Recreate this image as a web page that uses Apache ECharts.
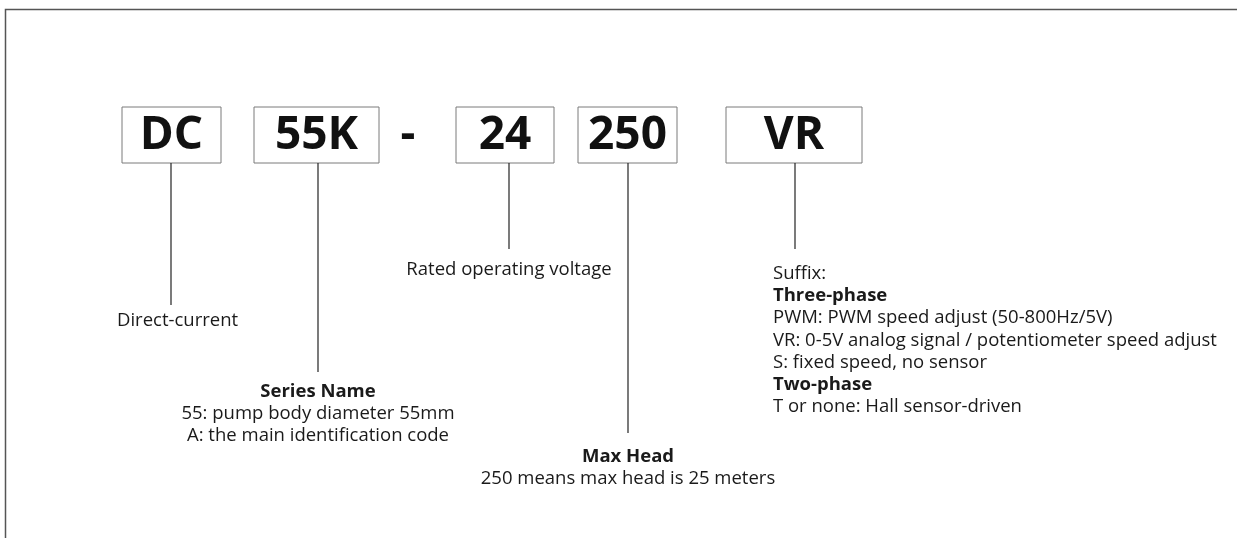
<!DOCTYPE html>
<html>
<head>
<meta charset="utf-8">
<title>Model code</title>
<script src="https://cdn.jsdelivr.net/npm/echarts@6/dist/echarts.min.js"></script>
<style>
  html, body { margin: 0; padding: 0; background: #fff; }
  #main { width: 1237px; height: 538px; }
</style>
</head>
<body>
<div id="main"></div>
<script>
// model code segments and where each sits along the code line
const codes = ['DC', '55K', '24', '250', 'VR'];
const codeStart = [122, 254, 456, 578, 726];
const codeEnd = [221, 379, 554, 677, 862];
const leaderX = [171, 318, 509, 628, 795];
const leaderEnd = [305, 372, 249, 433, 249];
const separatorText = '-';
const separatorX = 408;

// explanation lines under each segment, '*' marks a bold heading
const notes = [
    ['Direct-current'],
    ['*Series Name', '55: pump body diameter 55mm', 'A: the main identification code'],
    ['Rated operating voltage'],
    ['*Max Head', '250 means max head is 25 meters'],
    ['Suffix:', '*Three-phase', 'PWM: PWM speed adjust (50-800Hz/5V)',
        'VR: 0-5V analog signal / potentiometer speed adjust', 'S: fixed speed, no sensor',
        '*Two-phase', 'T or none: Hall sensor-driven']
];
const noteTop = [321, 392, 270, 457, 274];
const noteLeft = [117, null, null, null, 773];

const BOX_TOP = 107;
const BOX_BOTTOM = 163;
const FONT = '"Open Sans", "Noto Sans", sans-serif';

var chart = echarts.init(document.getElementById('main'));

function txt(text, x, y, font, align, color) {
    return {
        type: 'text',
        style: {
            text: text, x: x, y: y, font: font, fill: color || '#1a1a1a',
            align: align, verticalAlign: 'middle',
            textAlign: align, textVerticalAlign: 'middle'
        }
    };
}

function renderItem(params, api) {
    const i = params.dataIndex;
    const tl = api.coord([api.value(0), BOX_TOP]);
    const br = api.coord([api.value(1), BOX_BOTTOM]);
    const top = api.coord([api.value(2), BOX_BOTTOM]);
    const bot = api.coord([api.value(2), api.value(3)]);
    const children = [];
    children.push({
        type: 'rect',
        shape: { x: tl[0], y: tl[1], width: br[0] - tl[0], height: br[1] - tl[1] },
        style: { fill: '#fff', stroke: '#7a7a7a', lineWidth: 1 }
    });
    children.push(txt(codes[i], (tl[0] + br[0]) / 2, (tl[1] + br[1]) / 2 + 1,
        'bold 46px ' + FONT, 'center', '#111'));
    children.push({
        type: 'line',
        shape: { x1: top[0], y1: top[1], x2: bot[0], y2: bot[1] },
        style: { stroke: '#222', lineWidth: 1.2 }
    });
    const lines = notes[i];
    const left = noteLeft[i];
    lines.forEach(function (l, k) {
        const bold = l.charAt(0) === '*';
        const t = bold ? l.slice(1) : l;
        const p = api.coord([left != null ? left : api.value(2), noteTop[i] + k * 22.1]);
        children.push(txt(t, p[0], p[1], (bold ? 'bold ' : '') + '18.5px ' + FONT,
            left != null ? 'left' : 'center'));
    });
    if (i === 1) {
        const s = api.coord([separatorX, (BOX_TOP + BOX_BOTTOM) / 2]);
        children.push(txt(separatorText, s[0], s[1] + 1, 'bold 46px ' + FONT, 'center', '#111'));
    }
    return { type: 'group', children: children };
}

const option = {
    animation: false,
    backgroundColor: '#fff',
    grid: { left: 0, right: 0, top: 0, bottom: 0 },
    xAxis: { type: 'value', min: 0, max: 1237, show: false },
    yAxis: { type: 'value', min: 0, max: 538, inverse: true, show: false },
    graphic: [{
        type: 'rect',
        shape: { x: 5.5, y: 9.5, width: 1400, height: 700 },
        style: { fill: 'none', stroke: '#555', lineWidth: 1.5 },
        silent: true
    }],
    series: [{
        type: 'custom',
        renderItem: renderItem,
        clip: false,
        data: codes.map(function (c, i) {
            return [codeStart[i], codeEnd[i], leaderX[i], leaderEnd[i]];
        })
    }]
};
chart.setOption(option);
</script>
</body>
</html>
